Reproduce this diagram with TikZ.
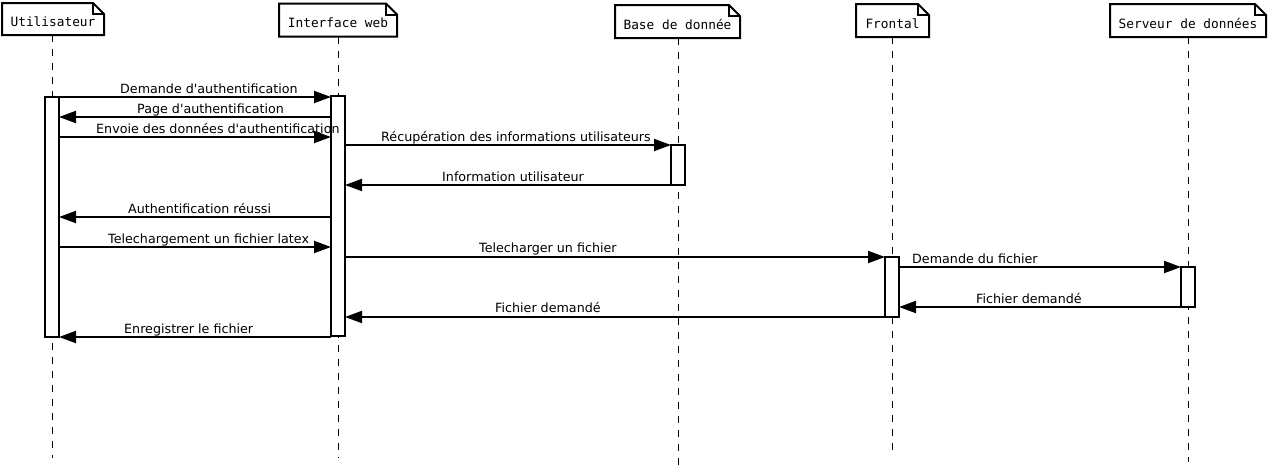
\documentclass[tikz,border=0pt]{standalone}
\usepackage{fontspec}
\usetikzlibrary{arrows.meta,calc}
\newfontfamily\headfont{DejaVu Sans Mono}
\newfontfamily\lblfont{DejaVu Sans}
\tikzset{
  x=1pt, y=-1pt,
  head/.style={font=\headfont\fontsize{12.8}{14}\selectfont, inner sep=0pt, outer sep=0pt,
               text height=15pt, text depth=0pt},
  boxline/.style={line width=2pt, line join=miter},
  life/.style={line width=1pt, dash pattern=on 7pt off 7pt},
  act/.style={draw, fill=white, line width=2pt, minimum width=14pt, inner sep=0pt, outer sep=0pt},
  msg/.style={line width=2pt, -{Triangle[length=17pt,width=12pt]}},
  lbl/.style={font=\lblfont\fontsize{12.7}{14}\selectfont, inner sep=0pt, anchor=base west},
}
\newcommand\notebox[1]{%
  \draw[boxline] (#1.south west) -- (#1.north west) -- ([xshift=-11pt]#1.north east)
     -- ([yshift=-11pt]#1.north east) -- (#1.south east) -- cycle;
  \draw[boxline] ([xshift=-11pt]#1.north east) |- ([yshift=-11pt]#1.north east);}
\begin{document}
\begin{tikzpicture}
\useasboundingbox (0,0) rectangle (1269,469);
% headers
\node[head, minimum width=102pt, minimum height=32pt] (hU) at (53,19) {Utilisateur};
\node[head, minimum width=118pt, minimum height=33pt] (hI) at (338,20) {Interface web};
\node[head, minimum width=125pt, minimum height=33pt] (hB) at (677.5,21.5) {Base de donnée};
\node[head, minimum width=73pt, minimum height=33pt] (hF) at (892.5,20.5) {Frontal};
\node[head, minimum width=156pt, minimum height=33pt] (hS) at (1188,20.5) {Serveur de données};
\foreach \n in {hU,hI,hB,hF,hS} {\notebox{\n}}
% lifeline ends
\coordinate (eU) at (52,458);
\coordinate (eI) at (338,457);
\coordinate (eB) at (678,465);
\coordinate (eF) at (892,452);
\coordinate (eS) at (1188,462);
\draw[life] (hU.south -| eU) -- (eU);
\draw[life] (hI.south -| eI) -- (eI);
\draw[life] (hB.south -| eB) -- (eB);
\draw[life] (hF.south -| eF) -- (eF);
\draw[life] (hS.south -| eS) -- (eS);
% activations
\node[act, minimum height=240pt] (aU) at (52,217) {};
\node[act, minimum height=240pt] (aI) at (338,216) {};
\node[act, minimum height=40pt] (aB) at (678,165) {};
\node[act, minimum height=60pt] (aF) at (892,287) {};
\node[act, minimum height=40pt] (aS) at (1188,287) {};
% message rows
\foreach \i/\y in {1/97,2/117,3/137,4/145,5/185,6/217,7/247,8/257,9/267,10/307,11/317,12/337}
  {\coordinate (m\i) at (0,\y);}
\draw[msg] (aU.east |- m1) -- (aI.west |- m1);
\draw[msg] (aI.west |- m2) -- (aU.east |- m2);
\draw[msg] (aU.east |- m3) -- (aI.west |- m3);
\draw[msg] (aI.east |- m4) -- (aB.west |- m4);
\draw[msg] (aB.west |- m5) -- (aI.east |- m5);
\draw[msg] (aI.west |- m6) -- (aU.east |- m6);
\draw[msg] (aU.east |- m7) -- (aI.west |- m7);
\draw[msg] (aI.east |- m8) -- (aF.west |- m8);
\draw[msg] (aF.east |- m9) -- (aS.west |- m9);
\draw[msg] (aS.west |- m10) -- (aF.east |- m10);
\draw[msg] (aF.west |- m11) -- (aI.east |- m11);
\draw[msg] (aI.west |- m12) -- (aU.east |- m12);
% labels
\path (m1) ++(120,-4) node[lbl] (l1) {Demande d'authentification};
\path (m2) ++(137,-4) node[lbl] (l2) {Page d'authentification};
\path (m3) ++(96,-4) node[lbl] (l3) {Envoie des données d'authentification};
\path (m4) ++(381,-4) node[lbl] (l4) {Récupération des informations utilisateurs};
\path (m5) ++(442,-4) node[lbl] (l5) {Information utilisateur};
\path (m6) ++(128,-4) node[lbl] (l6) {Authentification réussi};
\path (m7) ++(108,-4) node[lbl] (l7) {Telechargement un fichier latex};
\path (m8) ++(479,-5) node[lbl] (l8) {Telecharger un fichier};
\path (m9) ++(912,-4) node[lbl] (l9) {Demande du fichier};
\path (m10) ++(976,-4) node[lbl] (l10) {Fichier demandé};
\path (m11) ++(495,-5) node[lbl] (l11) {Fichier demandé};
\path (m12) ++(124,-4) node[lbl] (l12) {Enregistrer le fichier};
\end{tikzpicture}
\end{document}
